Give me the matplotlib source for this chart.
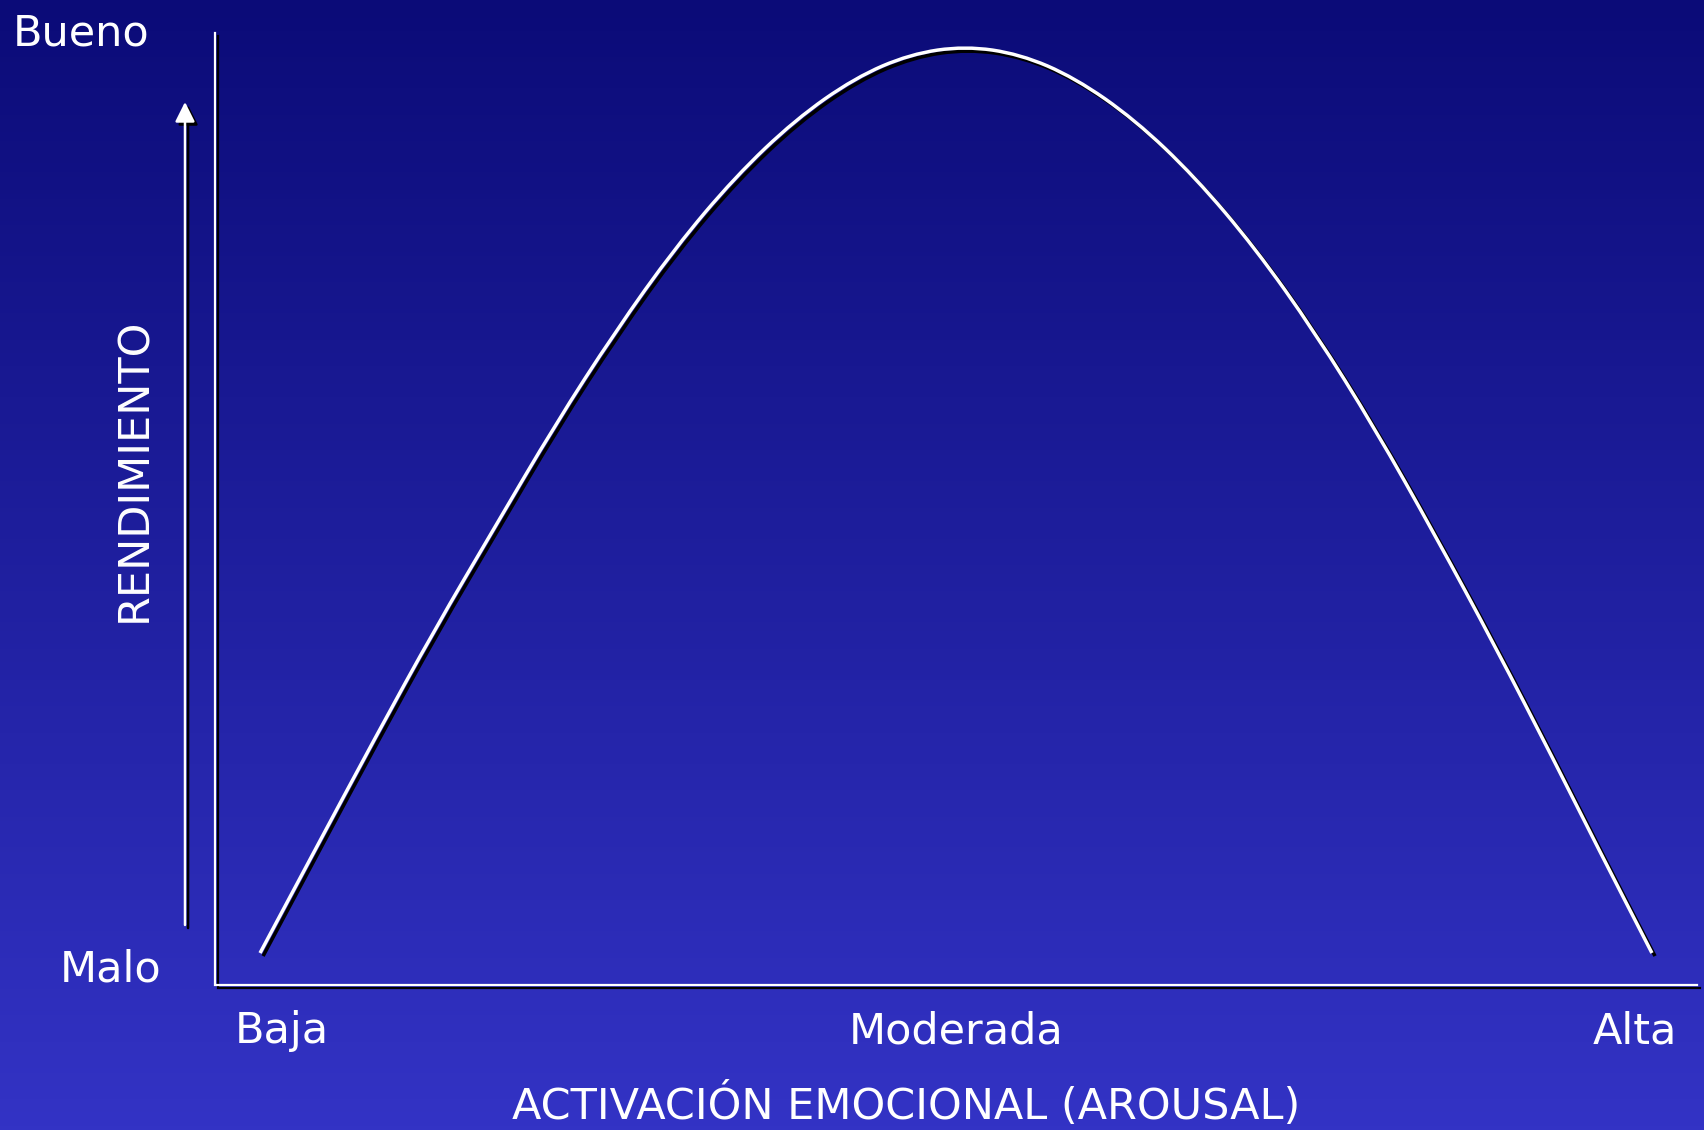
import numpy as np
import matplotlib as mpl
mpl.use('Agg')
from matplotlib import pyplot as plt
from matplotlib.path import Path
from matplotlib.patches import PathPatch, FancyArrowPatch
import matplotlib.transforms as mtransforms

# curve: arousal (0-100) vs performance (0-100)
arousal = [3.04, 6.75, 10.80, 14.84, 18.89, 22.94, 26.99, 31.04, 35.09, 39.14, 43.18,
           46.90, 50.61, 54.32, 58.03, 62.08, 66.13, 70.18, 74.22, 78.27, 82.32,
           86.37, 90.42, 93.32, 96.96]
rendimiento = [3.36, 14.18, 25.95, 37.39, 48.11, 58.82, 68.59, 77.42, 84.87, 90.88, 95.29,
               97.78, 98.63, 97.78, 95.29, 90.88, 84.87, 77.42, 68.56, 58.45, 47.27,
               35.61, 23.37, 14.39, 3.36]

x_ticks = [4.5, 50.0, 95.8]
x_labels = ['Baja', 'Moderada', 'Alta']
y_top_label = 'Bueno'
y_bottom_label = 'Malo'
y_title = 'RENDIMIENTO'
x_title = 'ACTIVACIÓN EMOCIONAL (AROUSAL)'

W, H = 1704, 1130
fig = plt.figure(figsize=(W / 100, H / 100), dpi=100)

def fx(x):
    return x / W

def fy(y):
    return 1 - y / H

# gradient background
bg = fig.add_axes([0, 0, 1, 1])
top = np.array([11, 11, 120]) / 255
bot = np.array([51, 51, 197]) / 255
t = np.linspace(0, 1, 256)[:, None]
grad = top[None, :] * (1 - t) + bot[None, :] * t
bg.imshow(grad[:, None, :], aspect='auto', extent=[0, 1, 0, 1])
bg.set_axis_off()

# main axes = box of the drawn axis lines
ax = fig.add_axes([fx(215), fy(985), (1697 - 215) / W, (985 - 33) / H])
ax.set_xlim(0, 100)
ax.set_ylim(0, 100)
ax.set_axis_off()
ax.patch.set_alpha(0)

shadow = mtransforms.ScaledTranslation(2.2 / 72, -2.2 / 72, fig.dpi_scale_trans)

# axis lines with black drop shadow
for tr, col, z in [(ax.transAxes + shadow, 'black', 2), (ax.transAxes, 'white', 3)]:
    ax.plot([0, 0, 1], [1, 0, 0], color=col, lw=1.6, transform=tr,
            clip_on=False, zorder=z, solid_joinstyle='miter')

# smooth curve through the read points (quadratic B-spline path)
pts = np.column_stack([arousal, rendimiento])
verts = [pts[0], (pts[0] + pts[1]) / 2]
codes = [Path.MOVETO, Path.LINETO]
for i in range(1, len(pts) - 1):
    verts += [pts[i], (pts[i] + pts[i + 1]) / 2]
    codes += [Path.CURVE3, Path.CURVE3]
verts.append(pts[-1])
codes.append(Path.LINETO)
curve = Path(verts, codes)
for tr, col, z in [(ax.transData + shadow, 'black', 4), (ax.transData, 'white', 5)]:
    ax.add_patch(PathPatch(curve, fill=False, edgecolor=col, lw=2.5,
                           transform=tr, zorder=z, clip_on=False, capstyle='butt'))

# vertical arrow
for tr, col in [(fig.transFigure + shadow, 'black'), (fig.transFigure, 'white')]:
    arr = FancyArrowPatch((fx(185), fy(925)), (fx(185), fy(102)),
                          arrowstyle='-|>,head_length=0.6,head_width=0.3',
                          mutation_scale=20, color=col, lw=1.8,
                          shrinkA=0, shrinkB=0, transform=tr)
    fig.add_artist(arr)

fs = 31
tkw = dict(color='white', fontsize=fs, family='DejaVu Sans')
fig.text(fx(13), fy(45), y_top_label, ha='left', va='baseline', **tkw)
fig.text(fx(60), fy(982), y_bottom_label, ha='left', va='baseline', **tkw)
fig.text(fx(134), fy(470), y_title, ha='center', va='center', rotation=90, **tkw)

lab_tr = mtransforms.blended_transform_factory(ax.transData, fig.transFigure)
for xt, lab in zip(x_ticks, x_labels):
    ax.text(xt, fy(1043), lab, ha='center', va='baseline', transform=lab_tr,
            clip_on=False, **tkw)

fig.text(fx(906), fy(1119), x_title, ha='center', va='baseline', **tkw)

plt.savefig('out.png', dpi=100)
